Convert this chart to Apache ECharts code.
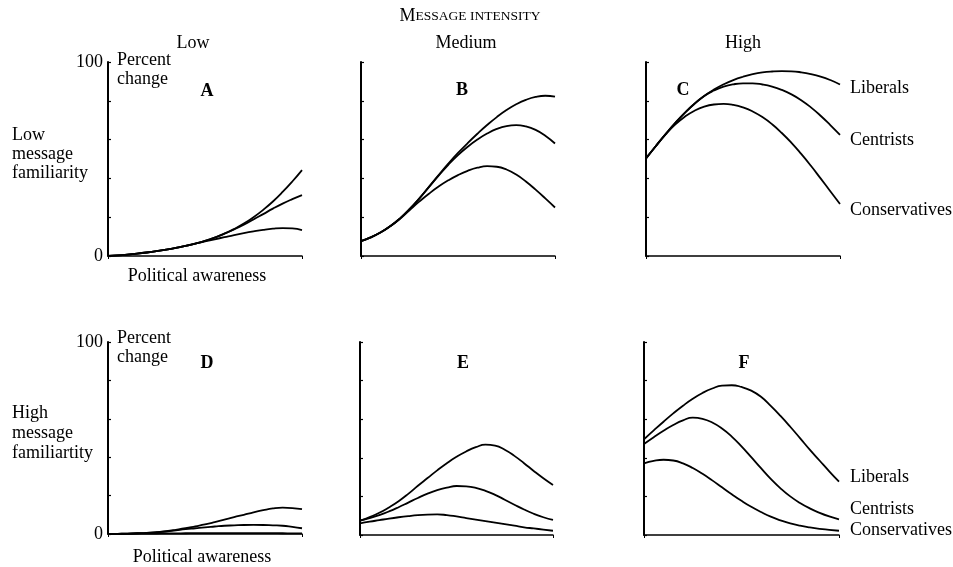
<!DOCTYPE html>
<html><head><meta charset="utf-8">
<script src="https://cdn.jsdelivr.net/npm/echarts@6/dist/echarts.min.js"></script>
<style>html,body{margin:0;padding:0;background:#fff}#c{width:953px;height:567px}</style>
</head><body><div id="c"></div>
<script>
// Political awareness (fraction of the range)
const awareness = [0,0.05,0.1,0.15,0.2,0.25,0.3,0.35,0.4,0.45,0.5,0.55,0.6,0.65,0.7,0.75,0.8,0.85,0.9,0.95,1.0];
const yTicks = [0, 100];
// Panel A: low intensity, low familiarity
const libA = [0,0.3,0.7,1.2,1.8,2.5,3.3,4.2,5.2,6.4,7.8,9.5,11.5,13.9,16.7,20.0,23.8,28.1,33.0,38.4,44.3];
const cenA = [0,0.3,0.7,1.2,1.8,2.5,3.3,4.2,5.2,6.4,7.8,9.5,11.5,13.7,16.1,18.8,21.6,24.4,27.0,29.3,31.4];
const conA = [0,0.3,0.7,1.2,1.8,2.5,3.3,4.2,5.2,6.4,7.5,8.6,9.7,10.8,11.8,12.7,13.5,14.1,14.4,14.2,13.4];
// Panel B: medium intensity, low familiarity
const libB = [7.7,9.6,12.1,15.3,19.3,24.1,29.6,35.6,41.7,47.6,53.1,58.2,63.0,67.5,71.6,75.2,78.2,80.5,82.0,82.6,82.1];
const cenB = [7.7,9.6,12.1,15.3,19.3,24.1,29.6,35.5,41.4,47.0,52.0,56.3,60.0,63.1,65.5,67.0,67.5,66.8,65.0,62.0,58.0];
const conB = [7.7,9.6,12.1,15.3,19.1,23.6,28.0,32.1,35.8,39.0,41.7,43.9,45.5,46.3,46.0,44.6,42.0,38.4,34.2,29.7,25.0];
// Panel C: high intensity, low familiarity
const libC = [50.3,56.6,62.7,68.5,73.8,78.5,82.5,85.8,88.5,90.7,92.4,93.7,94.6,95.1,95.3,95.2,94.7,93.8,92.5,90.7,88.4];
const cenC = [50.3,56.6,62.7,68.5,73.8,78.5,82.5,85.3,87.3,88.5,89.0,89.0,88.4,87.3,85.6,83.3,80.3,76.6,72.3,67.5,62.4];
const conC = [50.3,56.6,62.5,67.7,71.8,74.9,77.0,78.1,78.4,77.9,76.6,74.5,71.6,67.9,63.4,58.3,52.6,46.5,40.0,33.4,26.8];
// Panel D: low intensity, high familiarity
const libD = [0,0.1,0.2,0.4,0.6,1,1.5,2.2,3,4,5,6.2,7.5,8.8,10,11.3,12.4,13.3,13.7,13.5,12.9];
const cenD = [0,0.1,0.2,0.4,0.6,0.9,1.3,1.9,2.5,3,3.5,3.9,4.3,4.5,4.7,4.75,4.7,4.5,4.3,3.7,3];
const conD = [0,0.05,0.1,0.15,0.2,0.25,0.3,0.35,0.4,0.45,0.5,0.5,0.5,0.5,0.5,0.5,0.5,0.45,0.4,0.35,0.3];
// Panel E: medium intensity, high familiarity
const libE = [7.4,9.3,11.5,14.3,17.5,21.3,25.5,29.5,33.5,37.2,40.5,43.3,45.5,46.8,46.3,44.2,41.0,37.2,33.2,29.4,25.9];
const cenE = [7.4,8.7,10.3,12.2,14.4,16.8,19.2,21.4,23.2,24.5,25.4,25.2,24.4,22.9,20.8,18.3,15.7,13.2,11.0,9.2,7.8];
const conE = [6,6.9,7.7,8.5,9.2,9.8,10.3,10.6,10.7,10.3,9.6,8.8,8,7.2,6.4,5.6,4.8,4,3.4,2.8,2.2];
// Panel F: high intensity, high familiarity
const libF = [49.6,54.2,58.7,63.0,67.0,70.6,73.6,75.9,77.4,77.6,76.7,74.8,71.6,66.9,61.7,56.1,50.2,44.2,38.6,33.0,27.6];
const cenF = [47.2,50.7,54.0,57.0,59.4,60.8,60.2,58.3,55.2,51.0,45.9,40.3,34.6,29.1,24.2,20.0,16.6,13.8,11.5,9.6,8.1];
const conF = [37.1,38.4,39.0,38.6,37.1,34.7,31.7,28.3,24.7,21.1,17.7,14.6,11.9,9.5,7.6,6.0,4.8,3.9,3.2,2.7,2.2];

const panels = [
  {letter:'A', series:[libA,cenA,conA], grid:{left:108,top:62,width:194,height:194}, labels:true},
  {letter:'B', series:[libB,cenB,conB], grid:{left:361,top:62,width:194,height:194}, labels:false},
  {letter:'C', series:[libC,cenC,conC], grid:{left:646,top:62,width:194,height:194}, labels:false},
  {letter:'D', series:[libD,cenD,conD], grid:{left:108,top:342,width:194,height:192}, labels:true},
  {letter:'E', series:[libE,cenE,conE], grid:{left:360,top:342,width:193,height:193}, labels:false},
  {letter:'F', series:[libF,cenF,conF], grid:{left:644,top:342,width:195,height:193}, labels:false}
];
const FONT = '"Liberation Serif", "DejaVu Serif", serif';
const F18 = '18px '+FONT;
const grid=[], xAxis=[], yAxis=[], series=[];
panels.forEach((p,i)=>{
  grid.push(p.grid);
  xAxis.push({type:'value', gridIndex:i, min:0, max:1, interval:1,
    axisLine:{lineStyle:{color:'#000',width:1.5}},
    axisTick:{show:true,length:3,lineStyle:{color:'#000',width:1}},
    axisLabel:{show:false}, splitLine:{show:false}});
  yAxis.push({type:'value', gridIndex:i, min:0, max:100, interval:20,
    axisLine:{show:true,lineStyle:{color:'#000',width:2}},
    axisTick:{show:true,inside:true,length:3,lineStyle:{color:'#000',width:1.2}},
    axisLabel:{show:p.labels, margin:5, color:'#000', fontFamily:FONT, fontSize:18,
      formatter:v=> yTicks.includes(v) ? String(v) : ''},
    splitLine:{show:false}});
  p.series.forEach(arr=>{
    series.push({type:'line', xAxisIndex:i, yAxisIndex:i, smooth:0.5, showSymbol:false,
      silent:true, lineStyle:{color:'#000', width:1.8},
      data: awareness.map((x,k)=>[x, arr[k]])});
  });
});
function ctxt(x,y,t,opts){return {type:'text', x:x, y:y, style:Object.assign({text:t, fill:'#000', font:F18, align:'center', verticalAlign:'middle'}, opts||{})};}
function ltxt(x,y,t,lh){return {type:'text', x:x, y:y, style:{text:t, fill:'#000', font:F18, lineHeight:lh||18, verticalAlign:'middle'}};}
const BOLD = 'bold 18px '+FONT;
const graphic = [
  {type:'text', x:470, y:16, style:{text:'{a|M}{b|ESSAGE INTENSITY}', align:'center', verticalAlign:'middle',
    rich:{a:{font:'18px '+FONT, fill:'#000'}, b:{font:'13.5px '+FONT, fill:'#000'}}}},
  ctxt(193,43,'Low'), ctxt(466,43,'Medium'), ctxt(743,43,'High'),
  ctxt(207,91,'A',{font:BOLD}), ctxt(462,90,'B',{font:BOLD}), ctxt(683,90,'C',{font:BOLD}),
  ctxt(207,363,'D',{font:BOLD}), ctxt(463,363,'E',{font:BOLD}), ctxt(744,363,'F',{font:BOLD}),
  ltxt(117,70,'Percent\nchange',19),
  ltxt(117,348,'Percent\nchange',19),
  ltxt(12,154,'Low\nmessage\nfamiliarity',19),
  ltxt(12,433,'High\nmessage\nfamiliartity',20),
  ctxt(197,276,'Political awareness'), ctxt(202,557,'Political awareness'),
  ltxt(850,88,'Liberals'), ltxt(850,140,'Centrists'), ltxt(850,210,'Conservatives'),
  ltxt(850,477,'Liberals'), ltxt(850,509,'Centrists'), ltxt(850,530,'Conservatives')
];
const chart = echarts.init(document.getElementById('c'), null, {renderer:'canvas'});
chart.setOption({animation:false, backgroundColor:'#fff', grid, xAxis, yAxis, series, graphic});
</script></body></html>
